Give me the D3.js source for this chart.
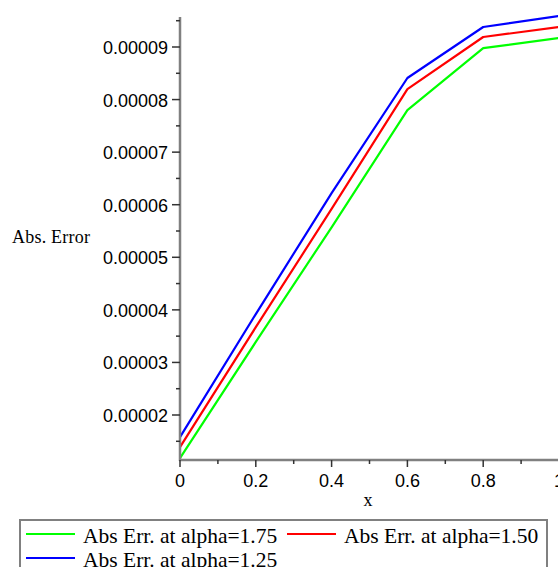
<!DOCTYPE html>
<html>
<head>
<meta charset="utf-8">
<script src="https://cdn.jsdelivr.net/npm/d3@7"></script>
<style>
  body { margin: 0; background: #fff; }
  svg { display: block; }
</style>
</head>
<body>
<div id="chart"></div>
<script>
// values
var xs        = [0, 0.2, 0.4, 0.6, 0.8, 1.0];
var err175    = [0.0000118, 0.0000339, 0.0000557, 0.0000780, 0.0000898, 0.0000917];
var err150    = [0.0000139, 0.0000367, 0.0000592, 0.0000820, 0.0000919, 0.0000938];
var err125    = [0.0000158, 0.0000392, 0.0000622, 0.0000841, 0.0000938, 0.0000959];
var seriesNames  = ["Abs Err. at alpha=1.75", "Abs Err. at alpha=1.50", "Abs Err. at alpha=1.25"];
var seriesColors = ["#00ff00", "#ff0000", "#0000ff"];
var xTicks = [0, 0.2, 0.4, 0.6, 0.8, 1];
var yTicks = [0.00002, 0.00003, 0.00004, 0.00005, 0.00006, 0.00007, 0.00008, 0.00009];

var W = 558, H = 567;
var svg = d3.select("#chart").append("svg")
    .attr("width", W).attr("height", H);

var x = d3.scaleLinear().domain([0, 1]).range([180, 559]);
var y = d3.scaleLinear().domain([0.00002, 0.00009]).range([415, 47]);
var yBottom = y.invert(460), yTop = y.invert(17);

var axisColor = "#808080";
var tickFont  = "'Liberation Sans', Arial, sans-serif";
var serif     = "'Liberation Serif', 'Times New Roman', serif";

// lines
var line = d3.line()
    .x(function(d) { return x(d[0]); })
    .y(function(d) { return y(d[1]); });

[err175, err150, err125].forEach(function(vals, i) {
    svg.append("path")
      .datum(xs.map(function(v, j) { return [v, vals[j]]; }))
      .attr("fill", "none")
      .attr("stroke", seriesColors[i])
      .attr("stroke-width", 2.2)
      .attr("stroke-linejoin", "round")
      .attr("d", line);
});

// y axis
svg.append("line")
    .attr("x1", x(0)).attr("x2", x(0))
    .attr("y1", y(yTop)).attr("y2", y(yBottom) + 1)
    .attr("stroke", axisColor).attr("stroke-width", 2.5);
var yMinor = d3.range(0.000015, 0.0000951, 0.00001);
svg.selectAll(".ymin").data(yMinor).enter().append("line")
    .attr("x1", x(0) - 4).attr("x2", x(0))
    .attr("y1", function(d) { return y(d); }).attr("y2", function(d) { return y(d); })
    .attr("stroke", "#333").attr("stroke-width", 1.5);
svg.selectAll(".ymaj").data(yTicks).enter().append("line")
    .attr("x1", x(0) - 8).attr("x2", x(0))
    .attr("y1", function(d) { return y(d); }).attr("y2", function(d) { return y(d); })
    .attr("stroke", "#333").attr("stroke-width", 1.5);
svg.selectAll(".ylab").data(yTicks).enter().append("text")
    .attr("x", x(0) - 12).attr("y", function(d) { return y(d) + 7; })
    .attr("text-anchor", "end")
    .attr("font-family", tickFont)
    .attr("font-size", 18)
    .attr("fill", "#000")
    .text(function(d) { return d.toFixed(5); });

// x axis
svg.append("line")
    .attr("x1", x(0) - 1).attr("x2", W)
    .attr("y1", y(yBottom)).attr("y2", y(yBottom))
    .attr("stroke", axisColor).attr("stroke-width", 2.5);
var xMinor = [0.1, 0.3, 0.5, 0.7, 0.9];
svg.selectAll(".xmin").data(xMinor).enter().append("line")
    .attr("x1", function(d) { return x(d); }).attr("x2", function(d) { return x(d); })
    .attr("y1", y(yBottom)).attr("y2", y(yBottom) + 4)
    .attr("stroke", "#333").attr("stroke-width", 1.5);
svg.selectAll(".xmaj").data(xTicks).enter().append("line")
    .attr("x1", function(d) { return x(d); }).attr("x2", function(d) { return x(d); })
    .attr("y1", y(yBottom)).attr("y2", y(yBottom) + 7)
    .attr("stroke", "#333").attr("stroke-width", 1.5);
svg.selectAll(".xlab").data(xTicks).enter().append("text")
    .attr("x", function(d) { return x(d); }).attr("y", 487)
    .attr("text-anchor", "middle")
    .attr("font-family", tickFont)
    .attr("font-size", 18)
    .attr("fill", "#000")
    .text(function(d) { return d3.format("")(d); });

// axis titles
svg.append("text")
    .attr("x", 368).attr("y", 506)
    .attr("text-anchor", "middle")
    .attr("font-family", serif)
    .attr("font-size", 18)
    .text("x");
svg.append("text")
    .attr("x", 12).attr("y", 243)
    .attr("font-family", serif)
    .attr("font-size", 18)
    .attr("textLength", 78)
    .text("Abs. Error");

// legend
svg.append("rect")
    .attr("x", 20).attr("y", 520)
    .attr("width", 527).attr("height", 60)
    .attr("fill", "#fff")
    .attr("stroke", "#808080").attr("stroke-width", 2);
var legendPos = [[26, 534], [287, 534], [26, 558]];
seriesNames.forEach(function(name, i) {
    var p = legendPos[i];
    svg.append("line")
      .attr("x1", p[0]).attr("x2", p[0] + 49)
      .attr("y1", p[1]).attr("y2", p[1])
      .attr("stroke", seriesColors[i]).attr("stroke-width", 2.2);
    svg.append("text")
      .attr("x", p[0] + 57).attr("y", p[1] + 9)
      .attr("font-family", serif)
      .attr("font-size", 21.5)
      .text(name);
});
</script>
</body>
</html>
